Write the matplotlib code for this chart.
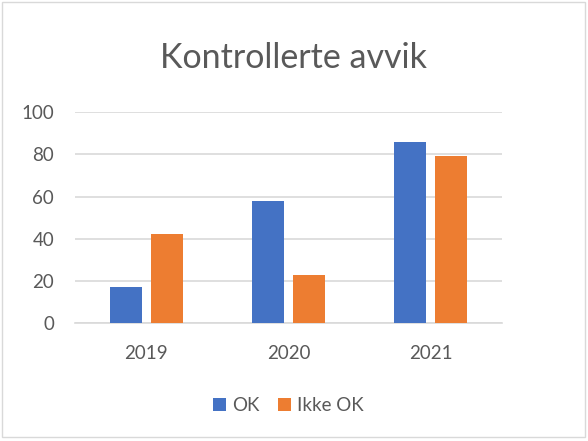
import matplotlib
matplotlib.use('Agg')
import matplotlib.pyplot as plt
import numpy as np
from matplotlib.patches import Rectangle

plt.rcParams['font.family'] = ['Lato', 'DejaVu Sans']

years = ['2019', '2020', '2021']
ok = [17, 58, 86]
ikke_ok = [42, 23, 79]

fig = plt.figure(figsize=(5.88, 4.41), dpi=100)
ax = fig.add_axes([0.1276, 0.2676, 0.726, 0.478])

x = np.arange(len(years))
w = 0.225
off = 0.144
ax.bar(x - off, ok, w, color='#4472C4', label='OK', zorder=3)
ax.bar(x + off, ikke_ok, w, color='#ED7D31', label='Ikke OK', zorder=3)

ax.set_xlim(-0.5, 2.5)
ax.set_ylim(0, 100)
ax.set_yticks(range(0, 101, 20))
ax.set_xticks(x)
ax.set_xticklabels(years)
ax.grid(axis='y', color='#d9d9d9', linewidth=1.2, zorder=0)
for s in ['top', 'right', 'left']:
    ax.spines[s].set_visible(False)
ax.spines['bottom'].set_color('#d9d9d9')
ax.spines['bottom'].set_linewidth(1.2)
ax.tick_params(length=0, labelsize=13.5, colors='#595959')
ax.tick_params(axis='y', pad=15)
ax.tick_params(axis='x', pad=16)

fig.text(0.5, 0.868, 'Kontrollerte avvik', ha='center', va='center',
         fontsize=24.5, color='#595959')

ax.legend(loc='center', bbox_to_anchor=(0.5, -0.39), ncol=2, frameon=False,
          fontsize=13.5, labelcolor='#595959', handlelength=0.7, handleheight=0.7,
          handletextpad=0.3, columnspacing=1.0)

fig.patches.append(Rectangle((0.003, 0.01), 0.992, 0.985, transform=fig.transFigure,
                             fill=False, edgecolor='#d9d9d9', linewidth=1))

fig.savefig('out.png', dpi=100)
